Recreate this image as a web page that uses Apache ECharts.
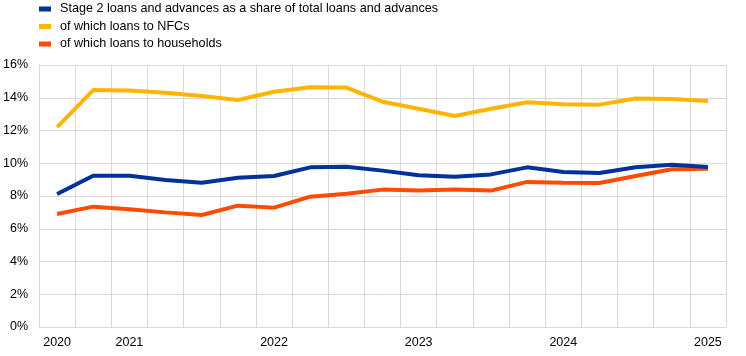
<!DOCTYPE html>
<html>
<head>
<meta charset="utf-8">
<script src="https://cdn.jsdelivr.net/npm/echarts@6/dist/echarts.min.js"></script>
<style>html,body{margin:0;padding:0;background:#fff}#c{width:746px;height:356px}</style>
</head>
<body>
<div id="c"></div>
<script>
const categories = ['2020 Q3','2020 Q4','2021 Q1','2021 Q2','2021 Q3','2021 Q4','2022 Q1','2022 Q2','2022 Q3','2022 Q4','2023 Q1','2023 Q2','2023 Q3','2023 Q4','2024 Q1','2024 Q2','2024 Q3','2024 Q4','2025 Q1'];
const xLabels = ['2020','','2021','','','','2022','','','','2023','','','','2024','','','','2025'];
const seriesNames = ['Stage 2 loans and advances as a share of total loans and advances','of which loans to NFCs','of which loans to households'];
const stage2Total = [8.12,9.24,9.24,8.98,8.81,9.12,9.22,9.75,9.79,9.55,9.27,9.18,9.32,9.75,9.47,9.40,9.75,9.91,9.77];
const nfcs = [12.2,14.47,14.45,14.3,14.1,13.86,14.37,14.64,14.62,13.76,13.33,12.89,13.33,13.72,13.6,13.58,13.96,13.92,13.8];
const households = [6.9,7.35,7.19,7.0,6.84,7.41,7.29,7.96,8.14,8.39,8.33,8.39,8.33,8.86,8.81,8.79,9.22,9.63,9.67];
const yTicks = [0,2,4,6,8,10,12,14,16];

const colors = ['#003299','#FFB400','#FF4B00'];
const chart = echarts.init(document.getElementById('c'), null, {renderer:'canvas'});
const grid = '#d9d9d9';
chart.setOption({
  animation:false,
  color: colors,
  textStyle:{fontFamily:'Liberation Sans, Arial, sans-serif'},
  legend:{
    orient:'vertical', left:34, top:-2.5, itemGap:4.5,
    icon:'rect', itemWidth:12, itemHeight:5,
    textStyle:{fontSize:12.6, color:'#000', fontFamily:'Liberation Sans, Arial, sans-serif', padding:[0,0,0,4]},
    data: seriesNames
  },
  grid:{left:39, right:20, top:65, bottom:29},
  xAxis:{
    type:'category', data:categories, boundaryGap:true,
    axisLine:{lineStyle:{color:grid, width:1}},
    axisTick:{show:false},
    splitLine:{show:true, interval:0, lineStyle:{color:grid, width:1}},
    axisLabel:{interval:0, color:'#000', fontSize:12.5, margin:9,
      formatter:(v, i) => xLabels[i]}
  },
  yAxis:{
    type:'value', min:yTicks[0], max:yTicks[yTicks.length-1], interval:2,
    axisLine:{show:true, lineStyle:{color:grid, width:1}},
    axisTick:{show:false},
    splitLine:{lineStyle:{color:grid, width:1}},
    axisLabel:{color:'#000', fontSize:12.5, margin:11, formatter:v => v + '%'}
  },
  series:[
    {name:seriesNames[0], type:'line', data:stage2Total, symbol:'none', lineStyle:{width:4, color:colors[0]}, z:3},
    {name:seriesNames[1], type:'line', data:nfcs, symbol:'none', lineStyle:{width:4, color:colors[1]}, z:2},
    {name:seriesNames[2], type:'line', data:households, symbol:'none', lineStyle:{width:4, color:colors[2]}, z:2}
  ]
});
</script>
</body>
</html>
